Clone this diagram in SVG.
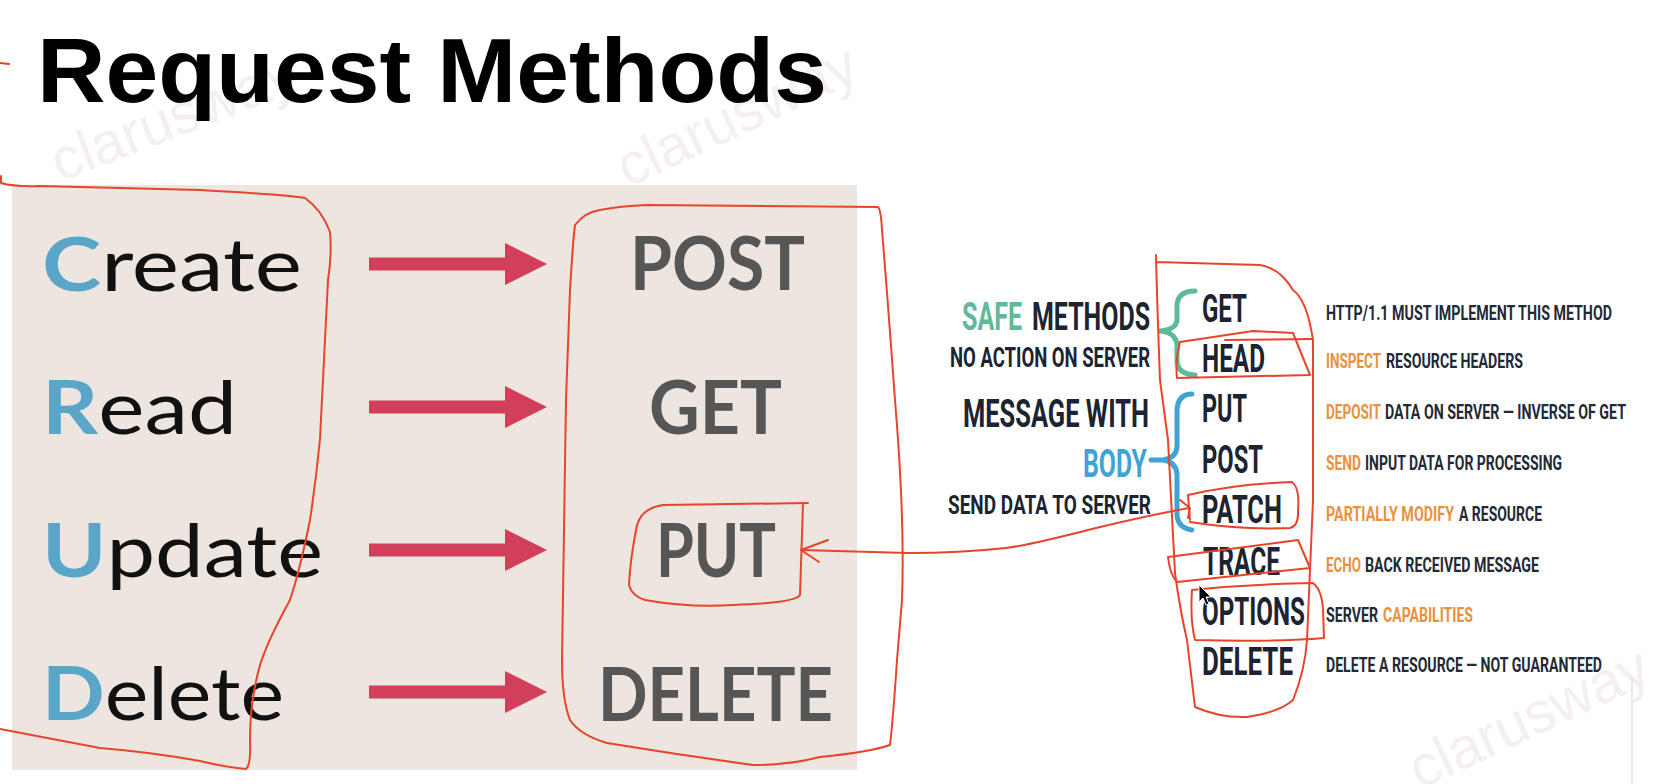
<svg xmlns="http://www.w3.org/2000/svg" width="1660" height="784" viewBox="0 0 1660 784">
<defs>
<style>
.title{font-family:"Liberation Sans",Arial,sans-serif;font-weight:700;font-size:90px;fill:#000}
.crud{font-family:Lato,"Liberation Sans",sans-serif;font-size:74px;fill:#111}
.k{font-weight:700;fill:#5aa6c9}
.verb{font-family:Lato,"Liberation Sans",sans-serif;font-weight:700;font-size:74px;fill:#565656}
.m{font-family:Roboto,"Liberation Sans",sans-serif;font-weight:700;font-size:39px;fill:#1c2331}
.lbl{font-family:Roboto,"Liberation Sans",sans-serif;font-weight:700;fill:#1c2331}
.desc{font-family:Roboto,"Liberation Sans",sans-serif;font-weight:700;font-size:21px;fill:#232a36}
.o{fill:#e8913f}
.g{fill:#5fb99b}
.b{fill:#3fa4d4}
.ink{fill:none;stroke:#e8442b;stroke-width:2;stroke-linecap:round;stroke-linejoin:round}
.blk{fill:#d23f5b}
.wm{font-family:"Liberation Sans",Arial,sans-serif;font-size:58px;fill:#f6efef}
</style>
<path id="blockArrow" d="M0,-6.5 H136 V-21 L178,0 L136,21 V6.5 H0 Z"/>
</defs>

<rect x="0" y="0" width="1660" height="784" fill="#ffffff"/>

<g id="watermarks">
<text class="wm" transform="translate(60,182) rotate(-21)">clarusway</text>
<text class="wm" transform="translate(628,188) rotate(-25)">clarusway</text>
<text class="wm" transform="translate(1420,790) rotate(-25)">clarusway</text>
</g>

<rect id="crud-panel" x="12" y="185" width="845" height="585" fill="#ede5df"/>
<line x1="1632" y1="677" x2="1632" y2="784" stroke="#e8e8e8" stroke-width="2"/>

<g id="title">
<text class="title" x="37" y="102" textLength="790" lengthAdjust="spacingAndGlyphs">Request Methods</text>
</g>

<g id="crud-create"><text class="crud" x="42" y="291" textLength="260" lengthAdjust="spacingAndGlyphs"><tspan class="k">C</tspan>reate</text></g>
<g id="crud-read"><text class="crud" x="42" y="434" textLength="195" lengthAdjust="spacingAndGlyphs"><tspan class="k">R</tspan>ead</text></g>
<g id="crud-update"><text class="crud" x="42" y="577" textLength="281" lengthAdjust="spacingAndGlyphs"><tspan class="k">U</tspan>pdate</text></g>
<g id="crud-delete"><text class="crud" x="42" y="720" textLength="242" lengthAdjust="spacingAndGlyphs"><tspan class="k">D</tspan>elete</text></g>

<g id="verb-post"><text class="verb" x="630" y="290" textLength="175" lengthAdjust="spacingAndGlyphs">POST</text></g>
<g id="verb-get"><text class="verb" x="649" y="434" textLength="133" lengthAdjust="spacingAndGlyphs">GET</text></g>
<g id="verb-put"><text class="verb" x="656" y="577" textLength="120" lengthAdjust="spacingAndGlyphs">PUT</text></g>
<g id="verb-delete"><text class="verb" x="598" y="721" textLength="235" lengthAdjust="spacingAndGlyphs">DELETE</text></g>

<g id="label-safe">
<text class="lbl g" x="962" y="330" font-size="39" textLength="60" lengthAdjust="spacingAndGlyphs">SAFE</text>
<text class="lbl" x="1032" y="330" font-size="39" textLength="118" lengthAdjust="spacingAndGlyphs">METHODS</text>
<text class="lbl" x="950" y="367" font-size="27" textLength="200" lengthAdjust="spacingAndGlyphs">NO ACTION ON SERVER</text>
<path d="M1195,291 Q1178,291 1177,305 L1177,320 Q1176,330 1159,331 Q1176,332 1177,345 L1177,362 Q1178,374 1195,375" fill="none" stroke="#5fb99b" stroke-width="5" stroke-linecap="round"/>
</g>

<g id="label-body">
<text class="lbl" x="963" y="427" font-size="38" textLength="186" lengthAdjust="spacingAndGlyphs">MESSAGE WITH</text>
<text class="lbl b" x="1083" y="477" font-size="38" textLength="64" lengthAdjust="spacingAndGlyphs">BODY</text>
<text class="lbl" x="948" y="514" font-size="26" textLength="203" lengthAdjust="spacingAndGlyphs">SEND DATA TO SERVER</text>
<path d="M1192,394 Q1178,394 1177,410 L1177,447 Q1176,458 1163,460 Q1176,462 1177,474 L1177,515 Q1178,528 1192,530 M1151,460 L1163,460" fill="none" stroke="#3fa4d4" stroke-width="5" stroke-linecap="round"/>
</g>

<g id="row-get"><text class="m" x="1202" y="322" textLength="45" lengthAdjust="spacingAndGlyphs">GET</text>
<text class="desc" x="1326" y="320" textLength="286" lengthAdjust="spacingAndGlyphs">HTTP/1.1 MUST IMPLEMENT THIS METHOD</text></g>
<g id="row-head"><text class="m" x="1202" y="372" textLength="63" lengthAdjust="spacingAndGlyphs">HEAD</text>
<text class="desc o" x="1326" y="368" textLength="55" lengthAdjust="spacingAndGlyphs">INSPECT</text>
<text class="desc" x="1386" y="368" textLength="137" lengthAdjust="spacingAndGlyphs">RESOURCE HEADERS</text></g>
<g id="row-put"><text class="m" x="1202" y="422" textLength="45" lengthAdjust="spacingAndGlyphs">PUT</text>
<text class="desc o" x="1326" y="419" textLength="55" lengthAdjust="spacingAndGlyphs">DEPOSIT</text>
<text class="desc" x="1385" y="419" textLength="241" lengthAdjust="spacingAndGlyphs">DATA ON SERVER — INVERSE OF GET</text></g>
<g id="row-post"><text class="m" x="1202" y="473" textLength="61" lengthAdjust="spacingAndGlyphs">POST</text>
<text class="desc o" x="1326" y="470" textLength="35" lengthAdjust="spacingAndGlyphs">SEND</text>
<text class="desc" x="1365" y="470" textLength="197" lengthAdjust="spacingAndGlyphs">INPUT DATA FOR PROCESSING</text></g>
<g id="row-patch"><text class="m" x="1202" y="523" textLength="80" lengthAdjust="spacingAndGlyphs">PATCH</text>
<text class="desc o" x="1326" y="521" textLength="128" lengthAdjust="spacingAndGlyphs">PARTIALLY MODIFY</text>
<text class="desc" x="1459" y="521" textLength="83" lengthAdjust="spacingAndGlyphs">A RESOURCE</text></g>
<g id="row-trace"><text class="m" x="1203" y="575" textLength="77" lengthAdjust="spacingAndGlyphs">TRACE</text>
<text class="desc o" x="1326" y="572" textLength="35" lengthAdjust="spacingAndGlyphs">ECHO</text>
<text class="desc" x="1365" y="572" textLength="174" lengthAdjust="spacingAndGlyphs">BACK RECEIVED MESSAGE</text></g>
<g id="row-options"><text class="m" x="1202" y="625" textLength="103" lengthAdjust="spacingAndGlyphs">OPTIONS</text>
<text class="desc" x="1326" y="622" textLength="52" lengthAdjust="spacingAndGlyphs">SERVER</text>
<text class="desc o" x="1383" y="622" textLength="90" lengthAdjust="spacingAndGlyphs">CAPABILITIES</text></g>
<g id="row-delete"><text class="m" x="1202" y="675" textLength="91" lengthAdjust="spacingAndGlyphs">DELETE</text>
<text class="desc" x="1326" y="672" textLength="276" lengthAdjust="spacingAndGlyphs">DELETE A RESOURCE — NOT GUARANTEED</text></g>

<g id="connectors">
<use href="#blockArrow" class="blk" transform="translate(369,264)"/>
<use href="#blockArrow" class="blk" transform="translate(369,407)"/>
<use href="#blockArrow" class="blk" transform="translate(369,550)"/>
<use href="#blockArrow" class="blk" transform="translate(369,692)"/>
<path class="ink" d="M1189,508 Q1150,515 1096,528 Q1030,545 1006,548 Q960,553 908,553 L801,550"/>
<path class="ink" d="M828,540 L801,550 L819,562"/>
<path class="ink" d="M1180,500 L1190,508 L1188,518"/>
</g>

<g id="annotations">
<path class="ink" d="M0,63 L9,64"/>
<path class="ink" d="M1,176 L1,183 Q15,187 40,186 L200,190 Q290,195 305,198 Q322,210 330,232 Q332,255 328,280 L320,439 Q316,480 310,520 Q300,570 290,600 Q268,640 260,665 Q250,700 250,740 Q251,765 246,769 Q225,767 200,761 Q150,752 100,748 L0,729"/>
<path class="ink" d="M575,225 Q585,212 600,210 Q620,206 647,205 L878,207 Q881,210 882,230 Q887,290 895,400 Q905,520 902,600 L897,660 Q893,720 890,745 Q870,752 820,757 Q790,765 753,765 Q680,755 607,743 Q580,735 570,720 Q562,700 562,660 L566,400 L570,290 Q573,240 575,225"/>
<path class="ink" d="M808,503 L663,505 Q642,508 637,525 Q630,560 629,585 Q632,596 645,600 Q690,608 733,605 Q795,603 800,595 L803,504"/>
<path class="ink" d="M1156,255 Q1157,300 1160,380 L1168,440 L1175,573 Q1180,610 1187,640 L1195,707 Q1220,718 1247,717 Q1280,712 1293,700 Q1305,670 1307,640 L1313,500 L1313,340 Q1307,300 1293,290 Q1280,268 1260,265 L1156,262"/>
<path class="ink" d="M1180,342 L1253,331 L1293,333 L1310,375 L1177,378 Q1175,360 1180,342 M1225,340 L1312,339"/>
<path class="ink" d="M1190,520 L1188,495 Q1235,484 1292,482 Q1300,488 1298,510 Q1299,526 1290,528 Q1240,530 1190,522"/>
<path class="ink" d="M1168,557 L1298,540 L1310,568 L1177,582 Q1170,575 1168,557"/>
<path class="ink" d="M1192,590 Q1250,584 1313,583 Q1322,590 1323,610 L1324,638 Q1280,642 1195,640 Q1190,620 1192,590"/>
</g>

<g id="cursor">
<path d="M1199,585 L1199,602 L1203,598 L1206,605 L1209,604 L1206,597 L1211,597 Z" fill="#000" stroke="#fff" stroke-width="1"/>
</g>
</svg>
